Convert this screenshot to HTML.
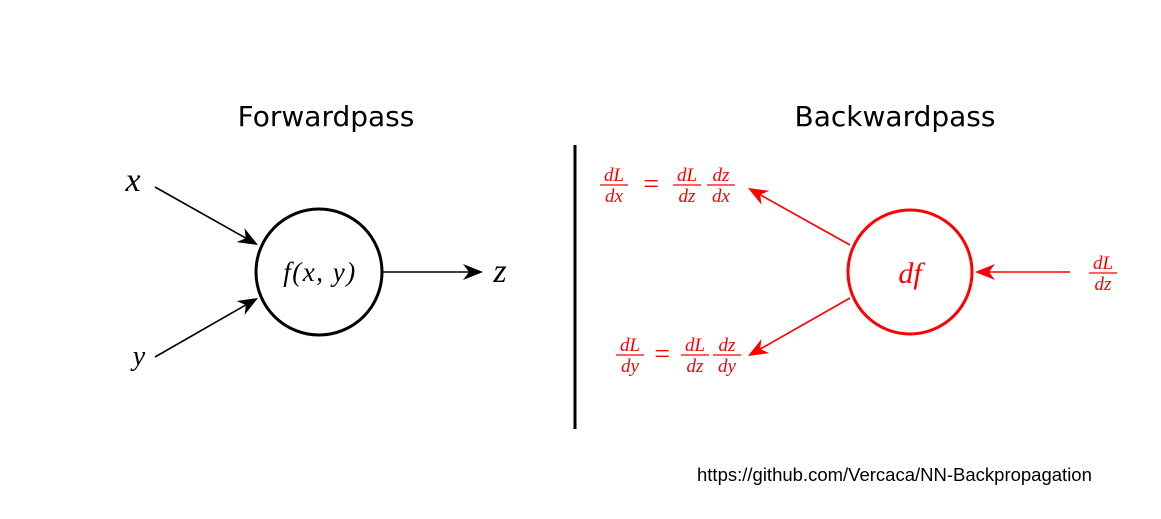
<!DOCTYPE html>
<html><head><meta charset="utf-8"><style>
html,body{margin:0;padding:0;background:#fff;width:1161px;height:519px;overflow:hidden}
svg text{font-family:"Liberation Serif",serif;font-style:italic}
.t{font-family:"DejaVu Sans",sans-serif;font-style:normal;font-size:28px;fill:#000}
.u{font-family:"Liberation Sans",sans-serif;font-style:normal;font-size:18.5px;fill:#000}
</style></head><body>
<svg id="s" width="1161" height="519" viewBox="0 0 1161 519" xmlns="http://www.w3.org/2000/svg">
<text class="t" x="326" y="126" text-anchor="middle">Forwardpass</text>
<text class="t" x="895" y="126" text-anchor="middle">Backwardpass</text>
<line x1="575" y1="145" x2="575" y2="429" stroke="#000" stroke-width="3"/>
<circle cx="319" cy="272" r="63" fill="none" stroke="#000" stroke-width="3"/>
<text x="320" y="281" font-size="27" letter-spacing="1.5" text-anchor="middle">f(x, y)</text>
<text x="133" y="191" font-size="34" text-anchor="middle">x</text>
<text x="139" y="365" font-size="28" text-anchor="middle">y</text>
<text x="500" y="282" font-size="34" text-anchor="middle">z</text>
<circle cx="910" cy="272" r="62" fill="none" stroke="#f00" stroke-width="3"/>
<text x="910" y="283" font-size="30" fill="#f00" text-anchor="middle">df</text>
<g id="fr" fill="#f00" font-size="19" text-anchor="middle"></g>
<g id="ar"></g>
<text class="u" x="697" y="481">https://github.com/Vercaca/NN-Backpropagation</text>
</svg>
<script>
const NS='http://www.w3.org/2000/svg';
const arrows=[[155,187,258,245,'#000',1.6,'arrow-x-in'],[155,357,258,298,'#000',1.6,'arrow-y-in'],[383,272,483,272,'#000',1.6,'arrow-z-out'],
[850,245,748,188,'#f00',1.6,'arrow-dx-out'],[850,298,748,356,'#f00',1.6,'arrow-dy-out'],[1070,272,975,272,'#f00',1.6,'arrow-dz-in']];
const ar=document.getElementById('ar');
arrows.forEach(a=>{const[x1,y1,x2,y2,c,w,n]=a;const dx=x2-x1,dy=y2-y1,L=Math.hypot(dx,dy),ux=dx/L,uy=dy/L,px=-uy,py=ux;
const g=document.createElementNS(NS,'g');


const l=document.createElementNS(NS,'line');l.setAttribute('x1',x1);l.setAttribute('y1',y1);l.setAttribute('x2',x2-ux*8);l.setAttribute('y2',y2-uy*8);l.setAttribute('stroke',c);l.setAttribute('stroke-width',w);g.appendChild(l);
const p=document.createElementNS(NS,'path');const h=20,hw=8;
p.setAttribute('d',`M${x2},${y2} L${x2-ux*h+px*hw},${y2-uy*h+py*hw} L${x2-ux*h*0.7},${y2-uy*h*0.7} L${x2-ux*h-px*hw},${y2-uy*h-py*hw}Z`);p.setAttribute('fill',c);g.appendChild(p);ar.appendChild(g);});
const fracs=[[614,'dL','dx'],[687,'dL','dz'],[721,'dz','dx'],[630,'dL','dy'],[695,'dL','dz'],[727,'dz','dy']];
const fy=[185,185,185,355,355,355];
const fr=document.getElementById('fr');
function frac(x,y,n,d,name){const g=document.createElementNS(NS,'g');


const t1=document.createElementNS(NS,'text');t1.setAttribute('x',x);t1.setAttribute('y',y-4);t1.textContent=n;g.appendChild(t1);
const ln=document.createElementNS(NS,'line');ln.setAttribute('x1',x-14);ln.setAttribute('x2',x+14);ln.setAttribute('y1',y);ln.setAttribute('y2',y);ln.setAttribute('stroke','#f00');ln.setAttribute('stroke-width',1.2);g.appendChild(ln);
const t2=document.createElementNS(NS,'text');t2.setAttribute('x',x);t2.setAttribute('y',y+17);t2.textContent=d;g.appendChild(t2);fr.appendChild(g);}
fracs.forEach((f,i)=>frac(f[0],fy[i],f[1],f[2],'fraction-'+f[1]+'-'+f[2]+'-'+i));
frac(1103,273,'dL','dz','fraction-dL-dz-input');
[[651,193],[662,363]].forEach((e,i)=>{const t=document.createElementNS(NS,'text');t.setAttribute('x',e[0]);t.setAttribute('y',e[1]);t.setAttribute('font-size','28');t.setAttribute('font-style','normal');t.textContent='=';


fr.appendChild(t);});
</script>
</body></html>
